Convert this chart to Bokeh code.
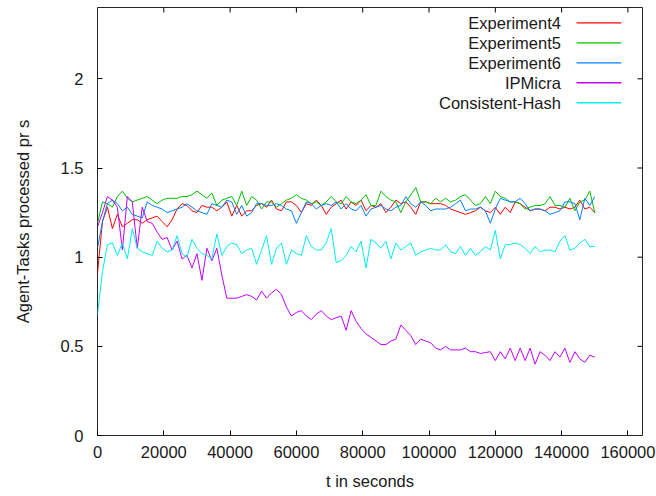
from bokeh.plotting import figure
from bokeh.models import Range1d, FixedTicker
from bokeh.embed import file_html
from bokeh.resources import INLINE
from bokeh.core.properties import value

# ---------------- data ----------------
time_s = [i * 1500 for i in range(101)]

experiment4 = [0.91, 1.20, 1.28, 1.16, 1.24, 1.17, 1.19, 1.21, 1.21, 1.19,
               1.21, 1.22, 1.23, 1.20, 1.17, 1.21, 1.27, 1.30, 1.29, 1.26,
               1.25, 1.29, 1.28, 1.28, 1.26, 1.28, 1.31, 1.23, 1.29, 1.23,
               1.26, 1.26, 1.29, 1.30, 1.28, 1.32, 1.27, 1.26, 1.31, 1.31,
               1.29, 1.25, 1.30, 1.29, 1.32, 1.29, 1.24, 1.28, 1.30, 1.32,
               1.27, 1.31, 1.29, 1.32, 1.26, 1.29, 1.28, 1.30, 1.25, 1.28,
               1.32, 1.30, 1.31, 1.28, 1.24, 1.31, 1.31, 1.30, 1.30, 1.30,
               1.29, 1.27, 1.26, 1.25, 1.24, 1.25, 1.26, 1.28, 1.26, 1.25,
               1.28, 1.24, 1.28, 1.25, 1.31, 1.30, 1.28, 1.26, 1.27, 1.27,
               1.26, 1.28, 1.28, 1.27, 1.28, 1.27, 1.28, 1.32, 1.27, 1.28,
               1.25]

experiment5 = [1.19, 1.31, 1.30, 1.28, 1.34, 1.37, 1.33, 1.31, 1.32, 1.33,
               1.34, 1.32, 1.30, 1.32, 1.33, 1.33, 1.33, 1.34, 1.34, 1.35,
               1.37, 1.35, 1.33, 1.36, 1.29, 1.32, 1.33, 1.34, 1.29, 1.37,
               1.29, 1.34, 1.32, 1.27, 1.31, 1.31, 1.28, 1.30, 1.32, 1.33,
               1.35, 1.33, 1.32, 1.30, 1.31, 1.29, 1.31, 1.34, 1.31, 1.30,
               1.34, 1.31, 1.30, 1.32, 1.35, 1.29, 1.29, 1.37, 1.34, 1.32,
               1.31, 1.25, 1.31, 1.35, 1.39, 1.31, 1.31, 1.30, 1.33, 1.31,
               1.33, 1.31, 1.32, 1.34, 1.35, 1.32, 1.29, 1.30, 1.34, 1.30,
               1.37, 1.34, 1.33, 1.31, 1.31, 1.30, 1.27, 1.28, 1.29, 1.29,
               1.30, 1.34, 1.29, 1.29, 1.28, 1.33, 1.26, 1.31, 1.32, 1.37,
               1.25]

experiment6 = [1.05, 1.20, 1.30, 1.32, 1.30, 1.26, 1.28, 1.24, 1.23, 1.22,
               1.31, 1.29, 1.28, 1.27, 1.25, 1.26, 1.27, 1.28, 1.30, 1.28,
               1.26, 1.25, 1.24, 1.30, 1.29, 1.28, 1.32, 1.31, 1.24, 1.29,
               1.23, 1.25, 1.30, 1.30, 1.29, 1.29, 1.30, 1.29, 1.27, 1.26,
               1.19, 1.25, 1.31, 1.30, 1.27, 1.29, 1.30, 1.29, 1.31, 1.27,
               1.30, 1.27, 1.26, 1.29, 1.23, 1.27, 1.28, 1.29, 1.27, 1.26,
               1.28, 1.29, 1.34, 1.30, 1.28, 1.31, 1.29, 1.26, 1.27, 1.27,
               1.27, 1.28, 1.30, 1.32, 1.26, 1.27, 1.27, 1.28, 1.26, 1.19,
               1.27, 1.33, 1.32, 1.31, 1.31, 1.33, 1.30, 1.26, 1.27, 1.27,
               1.26, 1.24, 1.25, 1.26, 1.31, 1.31, 1.30, 1.21, 1.33, 1.29,
               1.34]

ipmicra = [1.17, 1.25, 1.34, 1.32, 1.28, 1.04, 1.34, 1.31, 1.05, 1.28,
           1.20, 1.19, 1.14, 1.10, 1.11, 1.04, 1.09, 0.99, 1.01, 0.94,
           1.02, 0.87, 1.05, 0.98, 1.05, 0.90, 0.77, 0.77, 0.77, 0.78,
           0.79, 0.78, 0.76, 0.81, 0.77, 0.80, 0.82, 0.79, 0.72, 0.67,
           0.69, 0.70, 0.67, 0.65, 0.68, 0.70, 0.67, 0.65, 0.66, 0.67,
           0.59, 0.70, 0.64, 0.60, 0.57, 0.55, 0.53, 0.51, 0.51, 0.53,
           0.54, 0.62, 0.59, 0.56, 0.51, 0.54, 0.53, 0.52, 0.49, 0.48,
           0.50, 0.48, 0.48, 0.48, 0.49, 0.47, 0.47, 0.46, 0.465, 0.47,
           0.42, 0.47, 0.43, 0.49, 0.42, 0.49, 0.42, 0.49, 0.40, 0.47,
           0.45, 0.42, 0.47, 0.44, 0.49, 0.41, 0.47, 0.43, 0.41, 0.45,
           0.44]

consistent_hash = [0.68, 0.92, 1.07, 1.08, 1.01, 1.08, 0.99, 1.16, 1.05, 1.03,
                   1.02, 1.01, 1.09, 1.05, 1.03, 1.04, 1.12, 1.02, 1.00, 1.10,
                   1.05, 1.02, 1.01, 0.99, 1.13, 1.01, 1.06, 1.08, 1.07, 1.02,
                   1.04, 1.05, 0.96, 1.04, 1.12, 0.96, 1.05, 1.08, 0.96, 1.04,
                   1.02, 1.01, 1.12, 1.06, 1.04, 1.04, 1.08, 1.16, 0.97, 0.98,
                   1.01, 1.06, 1.03, 1.09, 0.94, 1.10, 1.08, 1.05, 1.09, 0.99,
                   1.08, 1.04, 1.06, 1.08, 1.01, 1.03, 1.04, 1.05, 1.04, 1.04,
                   1.07, 1.03, 1.02, 1.06, 1.01, 1.05, 1.01, 1.03, 1.06, 1.04,
                   1.15, 0.99, 1.07, 1.07, 1.08, 1.07, 1.05, 1.02, 1.06, 1.03,
                   1.04, 1.04, 1.03, 1.09, 1.12, 1.04, 1.05, 1.08, 1.10, 1.06,
                   1.06]

series_names = ["Experiment4", "Experiment5", "Experiment6", "IPMicra", "Consistent-Hash"]
series_values = [experiment4, experiment5, experiment6, ipmicra, consistent_hash]
series_colors = ["#ff0000", "#00c000", "#0080ff", "#c000ff", "#00eeee"]

x_ticks = [0, 20000, 40000, 60000, 80000, 100000, 120000, 140000, 160000]
x_tick_labels = ["0", "20000", "40000", "60000", "80000", "100000", "120000", "140000", "160000"]
y_ticks = [0, 0.5, 1, 1.5, 2]
y_tick_labels = ["0", "0.5", "1", "1.5", "2"]

X_MAX = 164400
Y_MAX = 2.4
FRAME_W = 545
FRAME_H = 428
TICK_PX = 5
FONT = "Liberation Sans"
FS = "16.5px"
TXT = "#1a1a1a"

# ---------------- figure ----------------
p = figure(width=656, height=496, output_backend="svg", toolbar_location=None,
           x_range=Range1d(0, X_MAX), y_range=Range1d(0, Y_MAX),
           min_border_left=97, min_border_right=14, min_border_top=7, min_border_bottom=61,
           background_fill_color="white", border_fill_color="white")
p.xgrid.visible = False
p.ygrid.visible = False
p.outline_line_color = "black"
p.outline_line_width = 1
p.outline_line_alpha = 0.85

p.xaxis.ticker = FixedTicker(ticks=x_ticks)
p.yaxis.ticker = FixedTicker(ticks=y_ticks)
p.xaxis.major_label_overrides = {t: l for t, l in zip(x_ticks, x_tick_labels)}
p.yaxis.major_label_overrides = {t: l for t, l in zip(y_ticks, y_tick_labels)}
p.xaxis.axis_label = "t in seconds"
p.yaxis.axis_label = "Agent-Tasks processed pr s"

for ax in (p.xaxis[0], p.yaxis[0]):
    ax.major_tick_in = TICK_PX
    ax.major_tick_out = 0
    ax.minor_tick_in = 0
    ax.minor_tick_out = 0
    ax.major_tick_line_color = "black"
    ax.axis_line_color = None
    ax.major_label_text_font = FONT
    ax.major_label_text_font_size = FS
    ax.major_label_text_color = TXT
    ax.axis_label_text_font = FONT
    ax.axis_label_text_font_size = FS
    ax.axis_label_text_font_style = "normal"
    ax.axis_label_text_color = TXT
p.xaxis[0].major_label_standoff = 10
p.yaxis[0].major_label_standoff = 14
p.xaxis[0].axis_label_standoff = 11
p.yaxis[0].axis_label_standoff = 26

# mirrored tick marks on top and right border (gnuplot style)
top_len = TICK_PX * Y_MAX / FRAME_H
right_len = TICK_PX * X_MAX / FRAME_W
xt = [t for t in x_ticks if 0 < t < X_MAX]
yt = [t for t in y_ticks if 0 < t < Y_MAX]
p.segment(x0=xt, y0=[Y_MAX] * len(xt), x1=xt, y1=[Y_MAX - top_len] * len(xt),
          line_color="black", line_width=1)
p.segment(x0=[X_MAX] * len(yt), y0=yt, x1=[X_MAX - right_len] * len(yt), y1=yt,
          line_color="black", line_width=1)

# ---------------- series ----------------
for vals, col in zip(series_values, series_colors):
    p.line(time_s, vals, line_color=col, line_width=1)

# ---------------- key (gnuplot style: text left of sample) ----------------
key_text_x = 139800
key_line_x0 = 144500
key_line_x1 = 158000
key_y_top = 2.314
key_dy = 0.112
key_y = [key_y_top - key_dy * k for k in range(len(series_names))]
p.text(x=[key_text_x] * len(series_names), y=key_y, text=series_names,
       text_align="right", text_baseline="middle",
       text_font=value(FONT), text_font_size=value(FS), text_color=TXT)
p.segment(x0=[key_line_x0] * len(series_names), y0=key_y,
          x1=[key_line_x1] * len(series_names), y1=key_y,
          line_color=series_colors, line_width=1.3)

open("out.html", "w").write(file_html(p, INLINE))
